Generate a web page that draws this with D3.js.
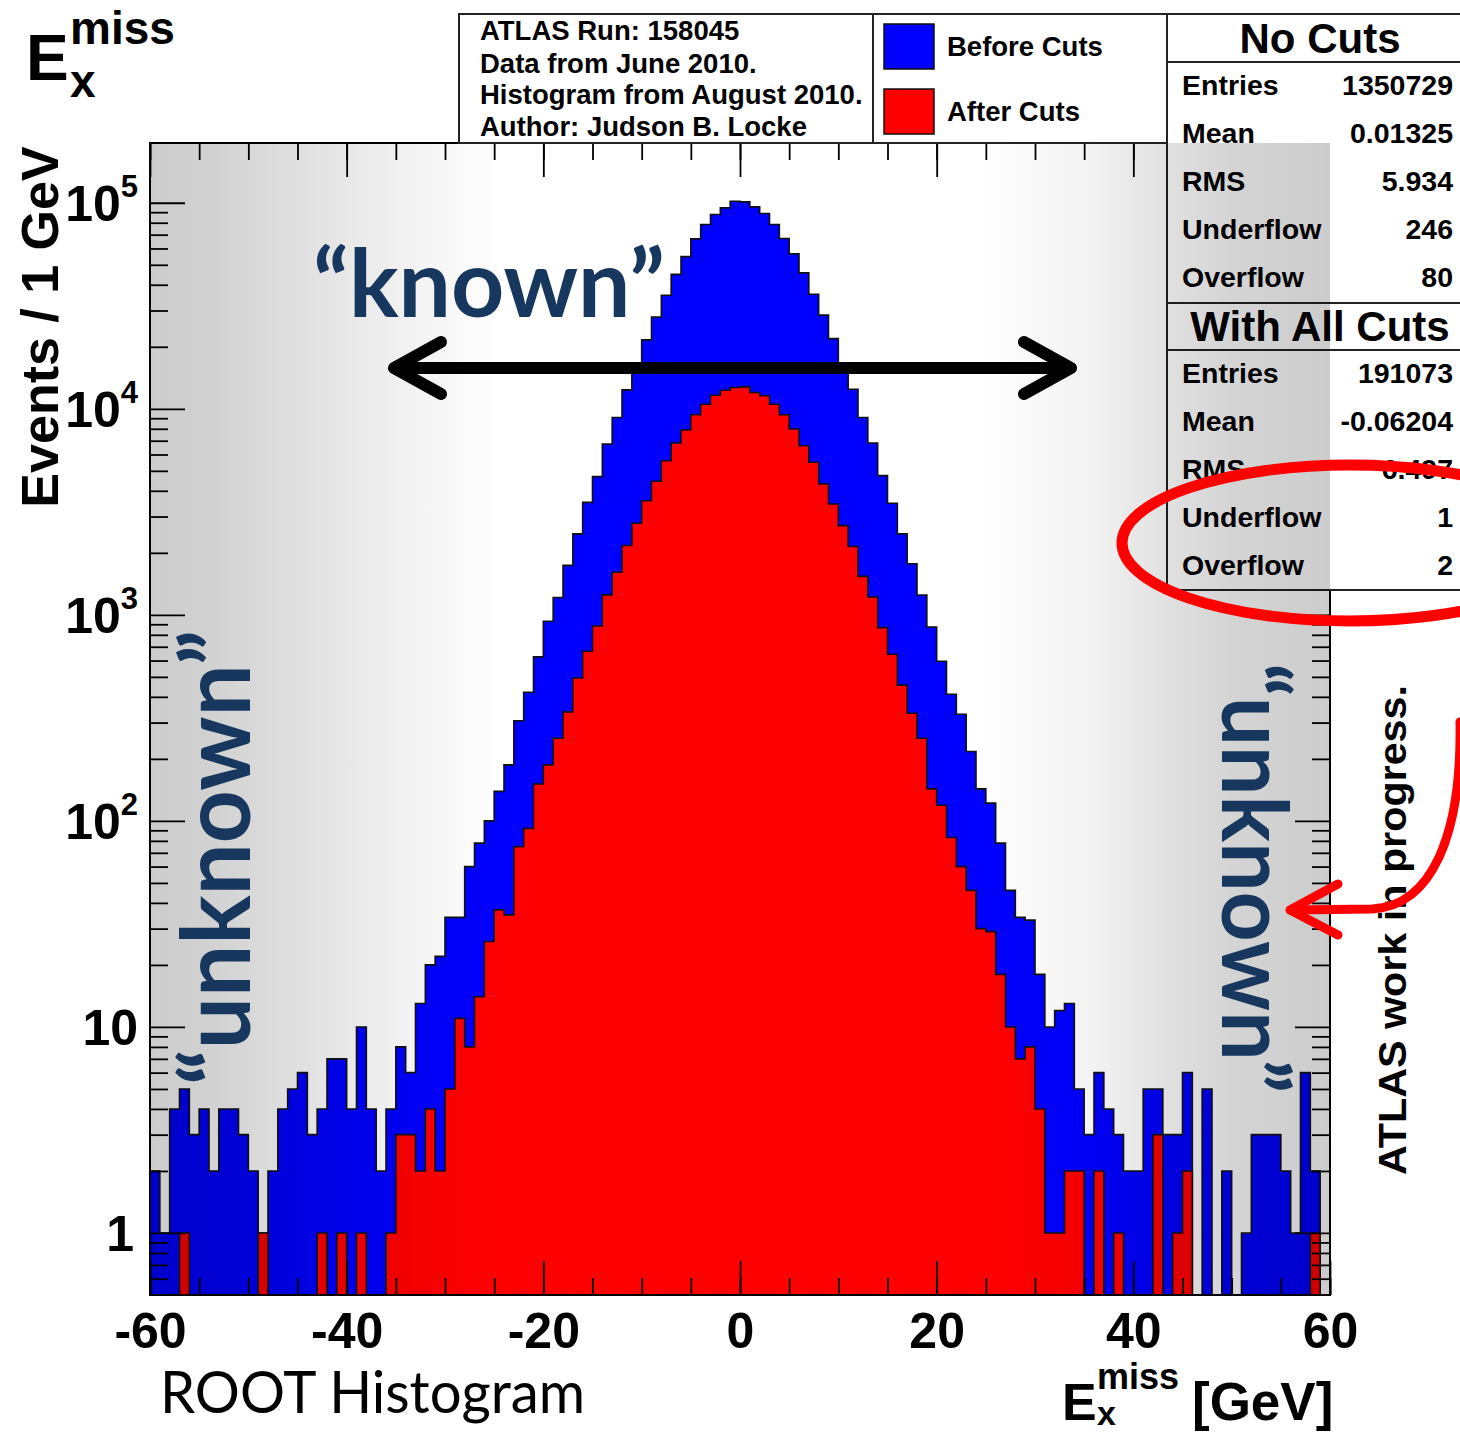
<!DOCTYPE html>
<html>
<head>
<meta charset="utf-8">
<script src="https://cdn.jsdelivr.net/npm/d3@7"></script>
<style>
  html, body { margin: 0; padding: 0; background: #fff; }
  svg text { font-family: 'Liberation Sans', Arial, Helvetica, sans-serif; font-weight: bold; }
</style>
</head>
<body>
<div id="chart"></div>
<script>
// bins of 1 GeV from -60 to 60 (120 bins)
const beforeCuts = [
  2, 1, 4, 5, 3, 4, 2, 4, 4, 3,
  2, 1, 2, 4, 5, 6, 3, 4, 7, 7,
  4, 10, 4, 2, 4, 8, 6, 13, 20, 22,
  34, 34, 60, 78, 100, 139, 187, 306, 421, 625,
  931, 1214, 1738, 2473, 3516, 4688, 6750, 9080, 12360, 16200,
  21600, 27900, 35600, 44900, 54800, 66800, 78400, 87700, 94400, 101700,
  101000, 95500, 88700, 78400, 67100, 56500, 45700, 36000, 28500, 21900,
  16500, 12440, 9080, 6820, 4740, 3480, 2473, 1770, 1248, 873,
  595, 412, 329, 217, 143, 122, 78, 46, 34, 33,
  18, 10, 12, 13, 5, 3, 6, 4, 3, 2,
  2, 5, 5, 3, 3, 6, 0, 5, 0, 2,
  0, 1, 3, 3, 3, 2, 1, 6, 2, 0
]
const afterCuts = [
  0, 0, 0, 1, 0, 0, 0, 0, 0, 0,
  0, 1, 0, 0, 0, 0, 0, 1, 0, 1,
  0, 1, 0, 0, 1, 3, 3, 2, 4, 2,
  5, 11, 8, 14, 26, 37, 35, 75, 92, 151,
  187, 252, 338, 494, 666, 883, 1250, 1610, 2170, 2785,
  3580, 4450, 5600, 6820, 7890, 9350, 10520, 11640, 12310, 12680,
  12770, 12000, 11570, 10520, 9350, 7980, 6620, 5500, 4320, 3450,
  2710, 2148, 1537, 1220, 867, 644, 456, 333, 252, 143,
  119, 83, 60, 46, 30, 29, 18, 10, 7, 8,
  4, 1, 1, 2, 2, 0, 2, 0, 1, 0,
  0, 0, 3, 0, 1, 2, 0, 0, 0, 0,
  0, 0, 0, 0, 0, 0, 0, 0, 1, 0
]
const xRange = [-60, 60]
const xMajor = [-60, -40, -20, 0, 20, 40, 60]
const yDecades = [1, 10, 100, 1000, 10000, 100000]
const yLabelExp = [null, null, 2, 3, 4, 5]

const infoLines = ['ATLAS Run: 158045', 'Data from June 2010.', 'Histogram from August 2010.', 'Author: Judson B. Locke']
const legendLabels = ['Before Cuts', 'After Cuts']
const statsNoCuts = [['Entries', '1350729'], ['Mean', '0.01325'], ['RMS', '5.934'], ['Underflow', '246'], ['Overflow', '80']]
const statsAllCuts = [['Entries', '191073'], ['Mean', '-0.06204'], ['RMS', '6.497'], ['Underflow', '1'], ['Overflow', '2']]

const W = 1460, H = 1432
const frame = { left: 150, right: 1330, top: 143, bottom: 1295 }
const navy = '#17375e'
const annoFont = "Lato, 'Open Sans', sans-serif"

const svg = d3.select('#chart').append('svg')
  .attr('width', W).attr('height', H)
  .style('display', 'block')
svg.append('rect').attr('width', W).attr('height', H).attr('fill', '#fff')

// scales
const x = d3.scaleLinear().domain(xRange).range([frame.left, frame.right])
const y = d3.scaleLog().domain([0.5, 1.95e5]).range([frame.bottom, frame.top])

// histogram outline (ROOT style steps, empty bins drop to the floor)
const histPath = vals => {
  const pts = [[x(xRange[0]), frame.bottom]]
  vals.forEach((v, i) => {
    const yy = v > 0 ? y(v) : frame.bottom
    pts.push([x(xRange[0] + i), yy], [x(xRange[0] + i + 1), yy])
  })
  pts.push([x(xRange[1]), frame.bottom])
  return d3.line()(pts) + 'Z'
}

svg.append('path').attr('d', histPath(beforeCuts))
  .attr('fill', '#0000ff').attr('stroke', '#111').attr('stroke-width', 1.6)
svg.append('path').attr('d', histPath(afterCuts))
  .attr('fill', '#ff0000').attr('stroke', '#111').attr('stroke-width', 1.6)

// axes (ticks inside the frame)
const xMinor = d3.range(-60, 61, 5)
const yMinor = []
for (let d = 0.1; d < 2e5; d *= 10) for (let k = 2; k <= 9; k++) {
  const v = d * k
  if (v > 0.5 && v < 1.95e5 && !yDecades.includes(v)) yMinor.push(v)
}

const styleAxis = g => {
  g.select('.domain').remove()
  g.selectAll('line').attr('stroke', '#000').attr('stroke-width', 1.8)
}

svg.append('g').attr('transform', `translate(0,${frame.bottom})`)
  .call(d3.axisBottom(x).tickValues(xMinor).tickSize(-17).tickFormat(''))
  .call(styleAxis)
svg.append('g').attr('transform', `translate(0,${frame.bottom})`)
  .call(d3.axisBottom(x).tickValues(xMajor).tickSize(-34).tickPadding(17).tickFormat(d => String(d)))
  .call(styleAxis)
  .selectAll('text').attr('font-size', 50).attr('fill', '#000')
  .style('font-family', "'Liberation Sans', Arial, sans-serif").style('font-weight', 'bold')
svg.append('g').attr('transform', `translate(0,${frame.top})`)
  .call(d3.axisTop(x).tickValues(xMinor).tickSize(-17).tickFormat(''))
  .call(styleAxis)
svg.append('g').attr('transform', `translate(0,${frame.top})`)
  .call(d3.axisTop(x).tickValues(xMajor).tickSize(-34).tickFormat(''))
  .call(styleAxis)

svg.append('g').attr('transform', `translate(${frame.left},0)`)
  .call(d3.axisLeft(y).tickValues(yMinor).tickSize(-18).tickFormat(''))
  .call(styleAxis)
svg.append('g').attr('transform', `translate(${frame.left},0)`)
  .call(d3.axisLeft(y).tickValues(yDecades).tickSize(-35).tickFormat(''))
  .call(styleAxis)
svg.append('g').attr('transform', `translate(${frame.right},0)`)
  .call(d3.axisRight(y).tickValues(yMinor).tickSize(-18).tickFormat(''))
  .call(styleAxis)
svg.append('g').attr('transform', `translate(${frame.right},0)`)
  .call(d3.axisRight(y).tickValues(yDecades).tickSize(-35).tickFormat(''))
  .call(styleAxis)

// y tick labels with superscripts
const yLab = svg.append('g')
yDecades.forEach((d, i) => {
  const t = yLab.append('text')
    .attr('x', i === 0 ? 134 : 138).attr('y', y(d) + 18)
    .attr('text-anchor', 'end').attr('font-size', 50)
  if (yLabelExp[i] == null) {
    t.text(d)
  } else {
    t.append('tspan').text('10')
    t.append('tspan').attr('dy', -24).attr('font-size', 31).text(yLabelExp[i])
  }
})

svg.append('rect')
  .attr('x', frame.left).attr('y', frame.top)
  .attr('width', frame.right - frame.left).attr('height', frame.bottom - frame.top)
  .attr('fill', 'none').attr('stroke', '#000').attr('stroke-width', 2)

// header: info text box, legend, stats box
const box = svg.append('g').attr('stroke', '#222').attr('stroke-width', 2)
box.append('rect').attr('x', 459).attr('y', 14).attr('width', 1010).attr('height', 129).attr('fill', '#fff')
box.append('rect').attr('x', 1167).attr('y', 14).attr('width', 300).attr('height', 576).attr('fill', '#fff')
box.append('line').attr('x1', 873).attr('x2', 873).attr('y1', 14).attr('y2', 143)
;[62, 303, 350].forEach(v => box.append('line').attr('x1', 1167).attr('x2', 1460).attr('y1', v).attr('y2', v))

infoLines.forEach((s, i) => {
  svg.append('text').attr('x', 480).attr('y', [40, 73, 104, 136][i])
    .attr('font-size', 27.5).text(s)
})

const legendColors = ['#0000ff', '#ff0000']
legendLabels.forEach((s, i) => {
  svg.append('rect').attr('x', 884).attr('y', 24 + i * 65).attr('width', 50).attr('height', 45)
    .attr('fill', legendColors[i]).attr('stroke', '#111').attr('stroke-width', 1.5)
  svg.append('text').attr('x', 947).attr('y', 56 + i * 65).attr('font-size', 27.5).text(s)
})

const statsBlock = (title, titleY, rows, firstY) => {
  svg.append('text').attr('x', 1320).attr('y', titleY).attr('text-anchor', 'middle')
    .attr('font-size', 42).text(title)
  rows.forEach((r, i) => {
    svg.append('text').attr('x', 1182).attr('y', firstY + i * 48).attr('font-size', 28.5).text(r[0])
    svg.append('text').attr('x', 1453).attr('y', firstY + i * 48).attr('font-size', 28.5)
      .attr('text-anchor', 'end').text(r[1])
  })
}
statsBlock('No Cuts', 53, statsNoCuts, 95)
statsBlock('With All Cuts', 341, statsAllCuts, 383)

// grey shading laid over the plot area (slide annotation)
const grad = svg.append('defs').append('linearGradient').attr('id', 'shade')
  .attr('x1', 0).attr('x2', 1).attr('y1', 0).attr('y2', 0)
;[[0, 0.2], [0.05, 0.18], [0.13, 0.12], [0.22, 0.05], [0.3, 0], [0.7, 0], [0.8, 0.05],
  [0.87, 0.13], [0.92, 0.17], [1, 0.2]].forEach(s => {
  grad.append('stop').attr('offset', s[0]).attr('stop-color', '#000').attr('stop-opacity', s[1])
})
svg.append('rect')
  .attr('x', frame.left).attr('y', frame.top)
  .attr('width', frame.right - frame.left).attr('height', frame.bottom - frame.top)
  .attr('fill', 'url(#shade)')

// axis titles
svg.append('text').attr('transform', 'translate(58,327) rotate(-90)')
  .attr('text-anchor', 'middle').attr('font-size', 52).text('Events / 1 GeV')

const eTop = svg.append('text').attr('x', 26).attr('y', 80).attr('font-size', 64)
eTop.append('tspan').text('E')
eTop.append('tspan').attr('x', 70).attr('y', 44).attr('font-size', 46).text('miss')
eTop.append('tspan').attr('x', 70).attr('y', 97).attr('font-size', 46).text('x')

const eBot = svg.append('text').attr('x', 1062).attr('y', 1420).attr('font-size', 52)
eBot.append('tspan').text('E')
eBot.append('tspan').attr('x', 1097).attr('y', 1389).attr('font-size', 36).text('miss')
eBot.append('tspan').attr('x', 1097).attr('y', 1425).attr('font-size', 34).text('x')
eBot.append('tspan').attr('x', 1192).attr('y', 1420).attr('font-size', 53).text('[GeV]')

svg.append('text').attr('x', 160).attr('y', 1413)
  .style('font-family', annoFont).style('font-weight', 'normal')
  .attr('font-size', 58).attr('textLength', 425).attr('lengthAdjust', 'spacingAndGlyphs')
  .text('ROOT Histogram')

// annotations
svg.append('text').attr('x', 313).attr('y', 317)
  .style('font-family', annoFont).attr('fill', navy)
  .attr('font-size', 94).attr('textLength', 352).attr('lengthAdjust', 'spacingAndGlyphs')
  .text('\u201cknown\u201d')

svg.append('text').attr('transform', 'translate(250,1085) rotate(-90)')
  .style('font-family', annoFont).attr('fill', navy)
  .attr('font-size', 96).attr('textLength', 455).attr('lengthAdjust', 'spacingAndGlyphs')
  .text('\u201cunknown\u201d')

svg.append('text').attr('transform', 'translate(1222,663) rotate(90)')
  .style('font-family', annoFont).attr('fill', navy)
  .attr('font-size', 92).attr('textLength', 430).attr('lengthAdjust', 'spacingAndGlyphs')
  .text('\u201cunknown\u201d')

const arrow = svg.append('g').attr('stroke', '#000').attr('stroke-width', 12)
  .attr('stroke-linecap', 'round').attr('stroke-linejoin', 'round').attr('fill', 'none')
arrow.append('line').attr('x1', 396).attr('x2', 1068).attr('y1', 368).attr('y2', 368)
arrow.append('path').attr('d', 'M441,342 L394,368 L441,394')
arrow.append('path').attr('d', 'M1024,342 L1071,368 L1024,394')

svg.append('text').attr('transform', 'translate(1406,1175) rotate(-90)')
  .attr('font-size', 39).attr('textLength', 490).attr('lengthAdjust', 'spacingAndGlyphs')
  .text('ATLAS work in progress.')

const red = svg.append('g').attr('stroke', '#ff0000').attr('fill', 'none')
  .attr('stroke-linecap', 'round').attr('stroke-linejoin', 'round')
red.append('ellipse').attr('cx', 1350).attr('cy', 543).attr('rx', 228).attr('ry', 78)
  .attr('stroke-width', 11)
red.append('path').attr('d', 'M1460,722 C1462,835 1432,906 1372,909 L1292,910')
  .attr('stroke-width', 9)
red.append('path').attr('d', 'M1338,884 L1290,910 L1338,935').attr('stroke-width', 9)
</script>
</body>
</html>
